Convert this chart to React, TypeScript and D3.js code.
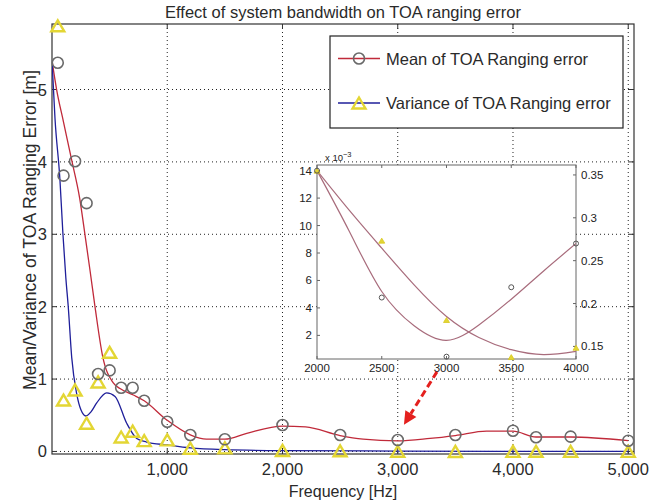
import React from 'react';
import * as d3 from 'd3';

// ---------- data ----------
const markerFreq = [50, 100, 200, 300, 400, 500, 600, 700, 800, 1000, 1200, 1500, 2000, 2500, 3000, 3500, 4000, 4200, 4500, 5000];
const meanVals = [5.37, 3.81, 4.01, 3.43, 1.07, 1.12, 0.88, 0.88, 0.70, 0.41, 0.228, 0.168, 0.366, 0.228, 0.159, 0.228, 0.287, 0.196, 0.205, 0.149];
const varVals = [5.88, 0.71, 0.85, 0.39, 0.96, 1.37, 0.2, 0.28, 0.15, 0.16, 0.045, 0.05, 0.014, 0.0089, 0.0031, 0.0004, 0.0011, 0.002, 0.001, 0.001];

const meanCurveFreq = [0, 40, 100, 170, 240, 290, 330, 373, 440, 530, 590, 706, 800, 1000, 1200, 1340, 1500, 1690, 2000, 2200, 2500, 2700, 3000, 3280, 3500, 3770, 4000, 4200, 4500, 5000];
const meanCurveVals = [5.4, 5.0, 4.55, 4.03, 3.5, 2.95, 2.5, 2.0, 1.31, 0.95, 0.87, 0.78, 0.70, 0.43, 0.23, 0.17, 0.17, 0.25, 0.35, 0.34, 0.22, 0.17, 0.145, 0.18, 0.22, 0.28, 0.28, 0.2, 0.2, 0.15];

const varCurveFreq = [0, 26, 69, 95, 120, 141, 171, 214, 250, 295, 340, 388, 474, 547, 648, 735, 821, 1000, 1200, 1500, 2000, 3000, 4000, 5000];
const varCurveVals = [5.4, 4.6, 3.75, 3.0, 2.4, 2.0, 1.3, 0.8, 0.58, 0.49, 0.55, 0.67, 0.81, 0.76, 0.39, 0.18, 0.13, 0.09, 0.05, 0.025, 0.012, 0.006, 0.002, 0.001];

const xTicks = [1000, 2000, 3000, 4000, 5000];
const yTicks = [0, 1, 2, 3, 4, 5];

// inset (zoom 2000-4000 Hz)
const insetFreq = [2000, 2500, 3000, 3500, 4000];
const insetMean = [0.355, 0.207, 0.138, 0.219, 0.27];
const insetVar = [14, 8.9, 3.12, 0.42, 1.1]; // x 10^-3
const insetCurveFreq = [2000, 2250, 2500, 2750, 3000, 3250, 3500, 3750, 4000];
const insetMeanCurve = [0.355, 0.284, 0.214, 0.174, 0.157, 0.175, 0.205, 0.238, 0.27];
const insetVarCurve = [14, 11.1, 8.35, 5.68, 3.38, 1.85, 0.96, 0.6, 0.84];
const insetXTicks = [2000, 2500, 3000, 3500, 4000];
const insetLeftTicks = [2, 4, 6, 8, 10, 12, 14];
const insetRightTicks = [0.15, 0.2, 0.25, 0.3, 0.35];

// annotation arrow (data coords of main axes)
const arrowFrom = { f: 3340, v: 1.1 };
const arrowTo = { f: 3054, v: 0.37 };

const legendLabels = ['Mean of TOA Ranging error', 'Variance of TOA Ranging error'];

// ---------- layout ----------
const W = 670, H = 504;
const AX = { l: 52, t: 24, r: 634, b: 454 };
const INS = { l: 317, t: 165, r: 576, b: 359 };
const LEG = { l: 330, t: 36, r: 623, b: 128 };

const FONT = 'Liberation Sans, Arial, Helvetica, sans-serif';
const RED = '#c02a3a';
const BLUE = '#1f1f9a';
const YELLOW = '#e3d634';
const GRAYC = '#6a6a6a';
const MAUVE = '#a86c7c';
const TXT = '#2a2a2a';

function tri(cx: number, cy: number, w: number, h: number) {
  return `M${cx},${cy - h / 2}L${cx + w / 2},${cy + h / 2}L${cx - w / 2},${cy + h / 2}Z`;
}

export default function App() {
  const x = d3.scaleLinear().domain([0, 5050]).range([AX.l, AX.r]);
  const y = d3.scaleLinear().domain([-0.035, 5.905]).range([AX.b, AX.t]);

  const meanLine = d3.line<number>().x((_, i) => x(meanCurveFreq[i])).y((d) => y(d)).curve(d3.curveMonotoneX);
  const varLine = d3.line<number>().x((_, i) => x(varCurveFreq[i])).y((d) => y(d)).curve(d3.curveMonotoneX);

  const ix = d3.scaleLinear().domain([2000, 4000]).range([INS.l, INS.r]);
  const iyL = d3.scaleLinear().domain([0.28, 14.41]).range([INS.b, INS.t]);
  const iyR = d3.scaleLinear().domain([0.1353, 0.3616]).range([INS.b, INS.t]);
  const insMeanLine = d3.line<number>().x((_, i) => ix(insetCurveFreq[i])).y((d) => iyR(d)).curve(d3.curveNatural);
  const insVarLine = d3.line<number>().x((_, i) => ix(insetCurveFreq[i])).y((d) => iyL(d)).curve(d3.curveNatural);

  // arrow geometry
  const ax0 = x(arrowFrom.f), ay0 = y(arrowFrom.v);
  const ax1 = x(arrowTo.f), ay1 = y(arrowTo.v);
  const len = Math.hypot(ax1 - ax0, ay1 - ay0);
  const ux = (ax1 - ax0) / len, uy = (ay1 - ay0) / len;
  const headL = 13, headW = 6.5;
  const bx = ax1 - ux * headL, by = ay1 - uy * headL;
  const head = `M${ax1},${ay1}L${bx + uy * headW},${by - ux * headW}L${bx - uy * headW},${by + ux * headW}Z`;

  const tickLen = 5;

  return (
    <svg width={W} height={H} style={{ position: 'absolute', left: 0, top: 0, background: '#fff' }} fontFamily={FONT}>
      <defs>
        <clipPath id="axclip">
          <rect x={AX.l} y={AX.t - 8} width={AX.r - AX.l} height={AX.b - AX.t + 8} />
        </clipPath>
        <clipPath id="insclip">
          <rect x={INS.l} y={INS.t} width={INS.r - INS.l} height={INS.b - INS.t} />
        </clipPath>
      </defs>
      <rect x={0} y={0} width={W} height={H} fill="#fff" />

      {/* title */}
      <text x={(AX.l + AX.r) / 2} y={18} textAnchor="middle" fontSize={16.5} fill={TXT}>
        Effect of system bandwidth on TOA ranging error
      </text>

      {/* grid */}
      <g stroke="#222" strokeWidth={1} strokeDasharray="1,3">
        {xTicks.map((t) => (
          <line key={'gx' + t} x1={x(t)} x2={x(t)} y1={AX.t} y2={AX.b} />
        ))}
        {yTicks.map((t) => (
          <line key={'gy' + t} x1={AX.l} x2={AX.r} y1={y(t)} y2={y(t)} />
        ))}
      </g>

      {/* axes box */}
      <rect x={AX.l} y={AX.t} width={AX.r - AX.l} height={AX.b - AX.t} fill="none" stroke="#333" strokeWidth={1.2} />
      <g stroke="#333" strokeWidth={1}>
        {xTicks.map((t) => (
          <g key={'tx' + t}>
            <line x1={x(t)} x2={x(t)} y1={AX.b} y2={AX.b - tickLen} />
            <line x1={x(t)} x2={x(t)} y1={AX.t} y2={AX.t + tickLen} />
          </g>
        ))}
        {yTicks.map((t) => (
          <g key={'ty' + t}>
            <line x1={AX.l} x2={AX.l + tickLen} y1={y(t)} y2={y(t)} />
            <line x1={AX.r} x2={AX.r - tickLen} y1={y(t)} y2={y(t)} />
          </g>
        ))}
      </g>

      {/* tick labels */}
      <g fontSize={16.5} fill={TXT}>
        {xTicks.map((t) => (
          <text key={'lx' + t} x={x(t)} y={475} textAnchor="middle">
            {d3.format(',')(t)}
          </text>
        ))}
        {yTicks.map((t) => (
          <text key={'ly' + t} x={47} y={y(t) + 6} textAnchor="end">
            {t}
          </text>
        ))}
      </g>
      <text x={(AX.l + AX.r) / 2} y={497} textAnchor="middle" fontSize={16} fill={TXT}>
        Frequency [Hz]
      </text>
      <text transform={`translate(36,230) rotate(-90)`} textAnchor="middle" fontSize={17.6} fill={TXT}>
        Mean/Variance of TOA Ranging Error [m]
      </text>

      {/* curves */}
      <g clipPath="url(#axclip)">
        <path d={meanLine(meanCurveVals) || ''} fill="none" stroke={RED} strokeWidth={1.3} />
        <path d={varLine(varCurveVals) || ''} fill="none" stroke={BLUE} strokeWidth={1.3} />
      </g>
      {/* markers */}
      <g fill="none" stroke={YELLOW} strokeWidth={2.4}>
        {varVals.map((v, i) => (
          <path key={'vt' + i} d={tri(x(markerFreq[i]), y(v), 13, 11)} />
        ))}
      </g>
      <g fill="none" stroke={GRAYC} strokeWidth={1.6}>
        {meanVals.map((v, i) => (
          <circle key={'mc' + i} cx={x(markerFreq[i])} cy={y(v)} r={5.5} />
        ))}
      </g>

      {/* legend */}
      <rect x={LEG.l} y={LEG.t} width={LEG.r - LEG.l} height={LEG.b - LEG.t} fill="#fff" stroke="#222" strokeWidth={1.2} />
      <line x1={338} x2={380} y1={58.5} y2={58.5} stroke={RED} strokeWidth={1.3} />
      <circle cx={359} cy={58.5} r={5.5} fill="none" stroke={GRAYC} strokeWidth={1.6} />
      <line x1={338} x2={380} y1={103} y2={103} stroke={BLUE} strokeWidth={1.3} />
      <path d={tri(359, 103, 13, 11)} fill="none" stroke={YELLOW} strokeWidth={2.4} />
      <g fontSize={16.5} fill={TXT}>
        <text x={386} y={64.5}>{legendLabels[0]}</text>
        <text x={386} y={109}>{legendLabels[1]}</text>
      </g>

      {/* inset */}
      <rect x={INS.l} y={INS.t} width={INS.r - INS.l} height={INS.b - INS.t} fill="#fff" stroke="#666" strokeWidth={1} />
      <g stroke="#666" strokeWidth={1}>
        {insetXTicks.map((t) => (
          <g key={'itx' + t}>
            <line x1={ix(t)} x2={ix(t)} y1={INS.b} y2={INS.b - 3} />
            <line x1={ix(t)} x2={ix(t)} y1={INS.t} y2={INS.t + 3} />
          </g>
        ))}
        {insetLeftTicks.map((t) => (
          <line key={'itl' + t} x1={INS.l} x2={INS.l + 3} y1={iyL(t)} y2={iyL(t)} />
        ))}
        {insetRightTicks.map((t) => (
          <line key={'itr' + t} x1={INS.r} x2={INS.r - 3} y1={iyR(t)} y2={iyR(t)} />
        ))}
      </g>
      <g clipPath="url(#insclip)">
        <path d={insVarLine(insetVarCurve) || ''} fill="none" stroke={MAUVE} strokeWidth={1.2} />
        <path d={insMeanLine(insetMeanCurve) || ''} fill="none" stroke={MAUVE} strokeWidth={1.2} />
      </g>
      <g fill={YELLOW} stroke="#d8c820" strokeWidth={0.8}>
        {insetVar.map((v, i) => (
          <path key={'ivt' + i} d={tri(ix(insetFreq[i]), iyL(v), 6, 5)} />
        ))}
      </g>
      <g fill="none" stroke="#555" strokeWidth={1}>
        {insetMean.map((v, i) => (
          <circle key={'imc' + i} cx={ix(insetFreq[i])} cy={iyR(v)} r={2.5} />
        ))}
      </g>
      <g fontSize={11.5} fill="#222">
        {insetXTicks.map((t) => (
          <text key={'ilx' + t} x={ix(t)} y={372} textAnchor="middle">{t}</text>
        ))}
        {insetLeftTicks.map((t) => (
          <text key={'ill' + t} x={312} y={iyL(t) + 4} textAnchor="end">{t}</text>
        ))}
        {insetRightTicks.map((t) => (
          <text key={'ilr' + t} x={581} y={iyR(t) + 4} textAnchor="start">{String(t)}</text>
        ))}
      </g>
      <text x={325} y={161} fontSize={9.5} fill="#222">
        x 10<tspan dy={-4} fontSize={7.5}>−3</tspan>
      </text>

      {/* arrow */}
      <line x1={ax0} y1={ay0} x2={bx} y2={by} stroke="#e4201e" strokeWidth={3} strokeDasharray="7,4" />
      <path d={head} fill="#e4201e" />
    </svg>
  );
}
